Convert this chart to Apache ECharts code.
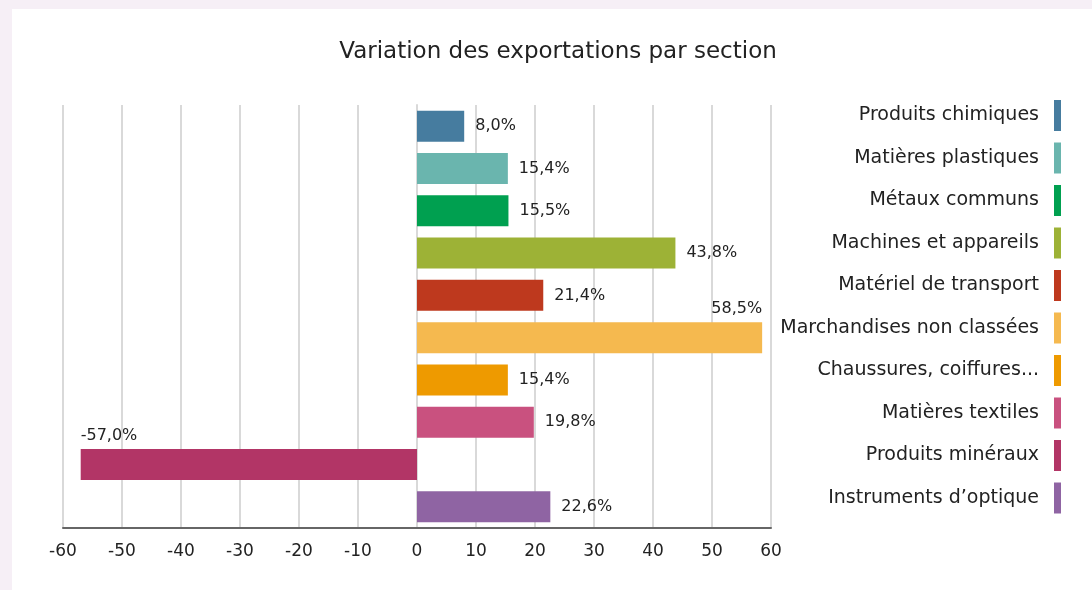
<!DOCTYPE html>
<html>
<head>
<meta charset="utf-8">
<script src="https://cdn.jsdelivr.net/npm/echarts@6/dist/echarts.min.js"></script>
<style>
  html, body { margin: 0; padding: 0; background: #f6eff6; }
  #chart { position: absolute; left: 12px; top: 9px; width: 1080px; height: 581px; background: #fff; }
</style>
</head>
<body>
<div id="chart"></div>
<script>
const sections = [
  "Produits chimiques",
  "Matières plastiques",
  "Métaux communs",
  "Machines et appareils",
  "Matériel de transport",
  "Marchandises non classées",
  "Chaussures, coiffures...",
  "Matières textiles",
  "Produits minéraux",
  "Instruments d’optique"
];
const variations = [8.0, 15.4, 15.5, 43.8, 21.4, 58.5, 15.4, 19.8, -57.0, 22.6];
const colors = [
  "#467c9f", "#6ab5ae", "#00a050", "#9db236", "#be391e",
  "#f5b94f", "#ee9a00", "#c9517f", "#b23566", "#8f64a3"
];
const xTicks = [-60, 60, 10]; // min, max, interval

const fontFamily = "DejaVu Sans";
const fmt = v => v.toFixed(1).replace(".", ",") + "%";

const chart = echarts.init(document.getElementById("chart"));

const series = sections.map((name, i) => {
  const data = sections.map((_, j) => (j === i ? variations[i] : "-"));
  // long bars get their label above the bar end
  const above = Math.abs(variations[i]) > 50;
  return {
    name: name,
    type: "bar",
    stack: "total",
    barWidth: 31,
    itemStyle: { color: colors[i] },
    data: data,
    label: above
      ? {
          show: true,
          position: variations[i] > 0 ? ["100%", -5] : ["0%", -5],
          align: variations[i] > 0 ? "right" : "left",
          verticalAlign: "bottom",
          color: "#222",
          fontFamily: fontFamily,
          fontSize: 16,
          formatter: p => fmt(p.value)
        }
      : {
          show: true,
          position: "right",
          distance: 11,
          color: "#222",
          fontFamily: fontFamily,
          fontSize: 16,
          formatter: p => fmt(p.value)
        }
  };
});

const option = {
  animation: false,
  title: {
    text: "Variation des exportations par section",
    left: 553 - 12,
    top: 27,
    textAlign: "center",
    textStyle: { fontFamily: fontFamily, fontSize: 23, fontWeight: "normal", color: "#222" }
  },
  legend: {
    orient: "vertical",
    right: 26,
    top: 86,
    align: "right",
    itemWidth: 7,
    itemHeight: 31,
    itemGap: 11.5,
    icon: "rect",
    selectedMode: false,
    textStyle: { fontFamily: fontFamily, fontSize: 19, color: "#222", padding: [0, 10, 0, 0] },
    data: sections
  },
  grid: { left: 51, right: 321, top: 96, bottom: 62, containLabel: false },
  xAxis: {
    type: "value",
    min: xTicks[0],
    max: xTicks[1],
    interval: xTicks[2],
    axisLine: { show: true, lineStyle: { color: "#666", width: 2 } },
    axisTick: { show: false },
    axisLabel: { color: "#222", fontFamily: fontFamily, fontSize: 17, margin: 15 },
    splitLine: { show: true, lineStyle: { color: "#d9d9d9", width: 2 } }
  },
  yAxis: {
    type: "category",
    inverse: true,
    data: sections,
    axisLine: { show: true, lineStyle: { color: "#d9d9d9", width: 2 } },
    axisTick: { show: false },
    axisLabel: { show: false }
  },
  series: series
};

chart.setOption(option);
</script>
</body>
</html>
